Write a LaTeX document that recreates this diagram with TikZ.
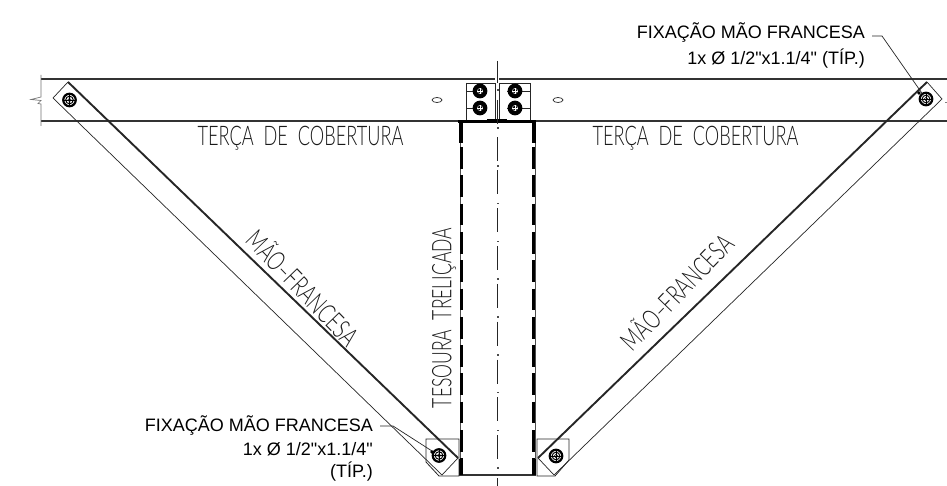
\documentclass[tikz,border=0pt]{standalone}
\usepackage{fontspec}
\setmainfont{Liberation Sans}
\newfontfamily\labf{Liberation Sans}
\newfontfamily\cad{Lato Light}
\usetikzlibrary{shapes.geometric,calc}
\tikzset{
  x=1pt,y=-1pt,
  beam/.style={draw=black!80,line width=1.7pt},
  thinl/.style={draw=black!85,line width=.7pt},
  brace/.style={draw=black!85,line width=1.9pt},
  plate/.style={draw=black!85,line width=.8pt},
  wall/.style={draw=black,line width=2.6pt},
  axis/.style={draw=black!85,line width=.7pt},
  lab/.style={font=\labf\fontsize{18}{20}\selectfont,text=black,inner sep=0pt,anchor=base east},
  cadtext/.style={font=\cad\fontsize{27}{30}\selectfont,text=black!90,inner sep=0pt},
  boltb/.style={circle,draw=black,line width=2.2pt,minimum size=12.5pt,inner sep=0pt},
  slot/.style={ellipse,draw=black!85,line width=.7pt,minimum width=10pt,minimum height=5pt,inner sep=0pt},
  lead/.style={draw=black!85,line width=.7pt},
}
\newcommand{\boltat}[3]{%
  \node[boltb] (#1) at (#2,#3) {};
  \draw[black,line width=1pt] (#1.center) circle (3.8);
  \draw[black,line width=.6pt] (#1.center) circle (1.8);
  \draw[black,line width=.4pt] ($(#1.center)+(-6,0)$) -- ($(#1.center)+(6,0)$);
  \draw[black,line width=.4pt] ($(#1.center)+(0,-6)$) -- ($(#1.center)+(0,6)$);
}
\newcommand{\plbolt}[3]{%
  \node[boltb,fill=black] (#1) at (#2,#3) {};
  \draw[white,line width=.4pt] (#1.center) circle (2.6);
  \draw[white,line width=.4pt] ($(#1.center)+(-2.6,0)$) -- ($(#1.center)+(2.6,0)$);
  \draw[white,line width=.4pt] ($(#1.center)+(0,-2.6)$) -- ($(#1.center)+(0,2.6)$);
}
\begin{document}
\begin{tikzpicture}
\useasboundingbox[fill=white] (0,0) rectangle (947,486);
% beam
\coordinate (bl1) at (41,79); \coordinate (bl2) at (41,121);
\coordinate (gapL) at (495,79); \coordinate (gapR) at (499,79);
\coordinate (tr) at (947,79); \coordinate (br) at (947,121);
\draw[beam] (bl1) -- (gapL);
\draw[beam] (gapR) -- (tr);
\draw[beam] (bl2) -- (br);
\draw[draw=black!55,line width=.7pt] (41,75) -- (41,97) -- (31,99.5) -- (41,100.5) -- (38,103.5) -- (41,104) -- (41,126);
\draw[draw=black!50,line width=.7pt] (945,102) -- (947,102);
% splice plates
\draw[plate] (466,83) -- (466,121) (466,83) -- (495,83) -- (495,121);
\draw[plate] (499,83) -- (499,121) (499,83) -- (530,83) -- (530,121);
\draw[plate] (466,91) -- (487,91) (466,108) -- (487,108);
\draw[plate] (507,91) -- (530,91) (507,108) -- (530,108);
\plbolt{p1}{480}{91}\plbolt{p2}{480}{108}\plbolt{p3}{515}{91}\plbolt{p4}{515}{108}
\node[slot] (s1) at (437,100) {};
\node[slot] (s2) at (558,100) {};
% column top bar, bottom bar
\draw[draw=black,line width=3pt] (458,122) -- (536,122);
\draw[draw=black,line width=1.8pt] (487,120) -- (507,120);
\draw[draw=black!80,line width=2.6pt] (459,475) -- (536,475);
% column sides
\foreach \x/\o in {461.7/-1.5,533.3/1.5}{
  \draw[draw=black!70,line width=.6pt] (\x+\o,122) -- (\x+\o,475);
  \draw[wall,dash pattern=on 21.7pt off 6.6pt,dash phase=0pt] (\x,147) -- (\x,475);
  \draw[draw=black,line width=4.4pt] (\x+\o*.6,122) -- (\x+\o*.6,143);
  \draw[draw=black,line width=3.8pt] (\x+\o*.5,459) -- (\x+\o*.5,475);
}
% centre line
\draw[axis] (497.7,61) -- (497.7,83);
\foreach \y in {90.2,128,165.8,203.6,241.4,279.2,317,354.8,392.6,430.4,468.2}{
  \fill[black!70] (496.9,\y-.8) rectangle (498.5,\y+.8);
}
\foreach \y in {100,137.5,170.5,208.3,246.1,283.9,321.7,359.5,397.3,435.1}{
  \draw[axis] (497.7,\y) -- (497.7,\y+ 24);
}
\draw[axis] (497.7,478) -- (497.7,486);
% bottom gussets
\coordinate (gl1) at (426,439); \coordinate (gl2) at (459,439); \coordinate (gl3) at (459,476); \coordinate (gl4) at (439,476); \coordinate (gl5) at (426,462);
\draw[plate] (gl1) -- (gl2) -- (gl3) -- (gl4) -- (gl5) -- cycle;
\coordinate (gr1) at (537,439); \coordinate (gr2) at (569,439); \coordinate (gr3) at (569,460); \coordinate (gr4) at (555,476); \coordinate (gr5) at (537,476);
\draw[plate] (gr1) -- (gr2) -- (gr3) -- (gr4) -- (gr5) -- cycle;
% left brace
\coordinate (a1) at (68,82); \coordinate (a2) at (53,98); \coordinate (a3) at (442,475); \coordinate (a4) at (458,458);
\draw[brace] (a1) -- (a4);
\draw[thinl] (a1) -- (a2) -- (a3) -- (a4);
% right brace
\coordinate (c1) at (927,82); \coordinate (c2) at (942,99); \coordinate (c3) at (554,475); \coordinate (c4) at (538,458);
\draw[brace] (c1) -- (c4);
\draw[thinl] (c1) -- (c2) -- (c3) -- (c4);
% bolts
\boltat{b1}{69.5}{100}
\boltat{b2}{926}{99}
\boltat{b3}{439}{455.5}
\boltat{b4}{556}{456}
% text
\node[cadtext] (t1) at (300.5,138.5) {\scalebox{.673}[1]{TERÇA\ \ DE\ \ COBERTURA}};
\node[cadtext] (t2) at (695.5,138.5) {\scalebox{.673}[1]{TERÇA\ \ DE\ \ COBERTURA}};
\node[cadtext,rotate=-46] (t3) at (304,287) {\scalebox{.69}[1]{MÃO–FRANCESA}};
\node[cadtext,rotate=46] (t4) at (676,291) {\scalebox{.69}[1]{MÃO–FRANCESA}};
\node[cadtext,rotate=90] (t5) at (444,318) {\scalebox{.649}[1]{TESOURA\ \ TRELIÇADA}};
% labels
\node[lab] (l1) at (373,431) {FIXAÇÃO MÃO FRANCESA};
\node[lab] (l2) at (373,455) {1x Ø 1/2"x1.1/4"};
\node[lab] (l3) at (373,477) {(TÍP.)};
\node[lab] (l4) at (865,39) {FIXAÇÃO MÃO FRANCESA};
\node[lab] (l5) at (865,65) {1x Ø 1/2"x1.1/4" (TÍP.)};
% leaders
\coordinate (k0) at (380,426);
\coordinate (k1) at (393,426);
\draw[lead] (k0) -- (k1) -- (b3);
\coordinate (k3) at (872,36);
\coordinate (k2) at (882,36);
\draw[lead] (k3) -- (k2) -- (b2);
\fill[black] (b3.center)+(-7,-3.5) circle (1.8);
\fill[black] (b2.center)+(-7,-6) circle (1.8);
\end{tikzpicture}
\end{document}
